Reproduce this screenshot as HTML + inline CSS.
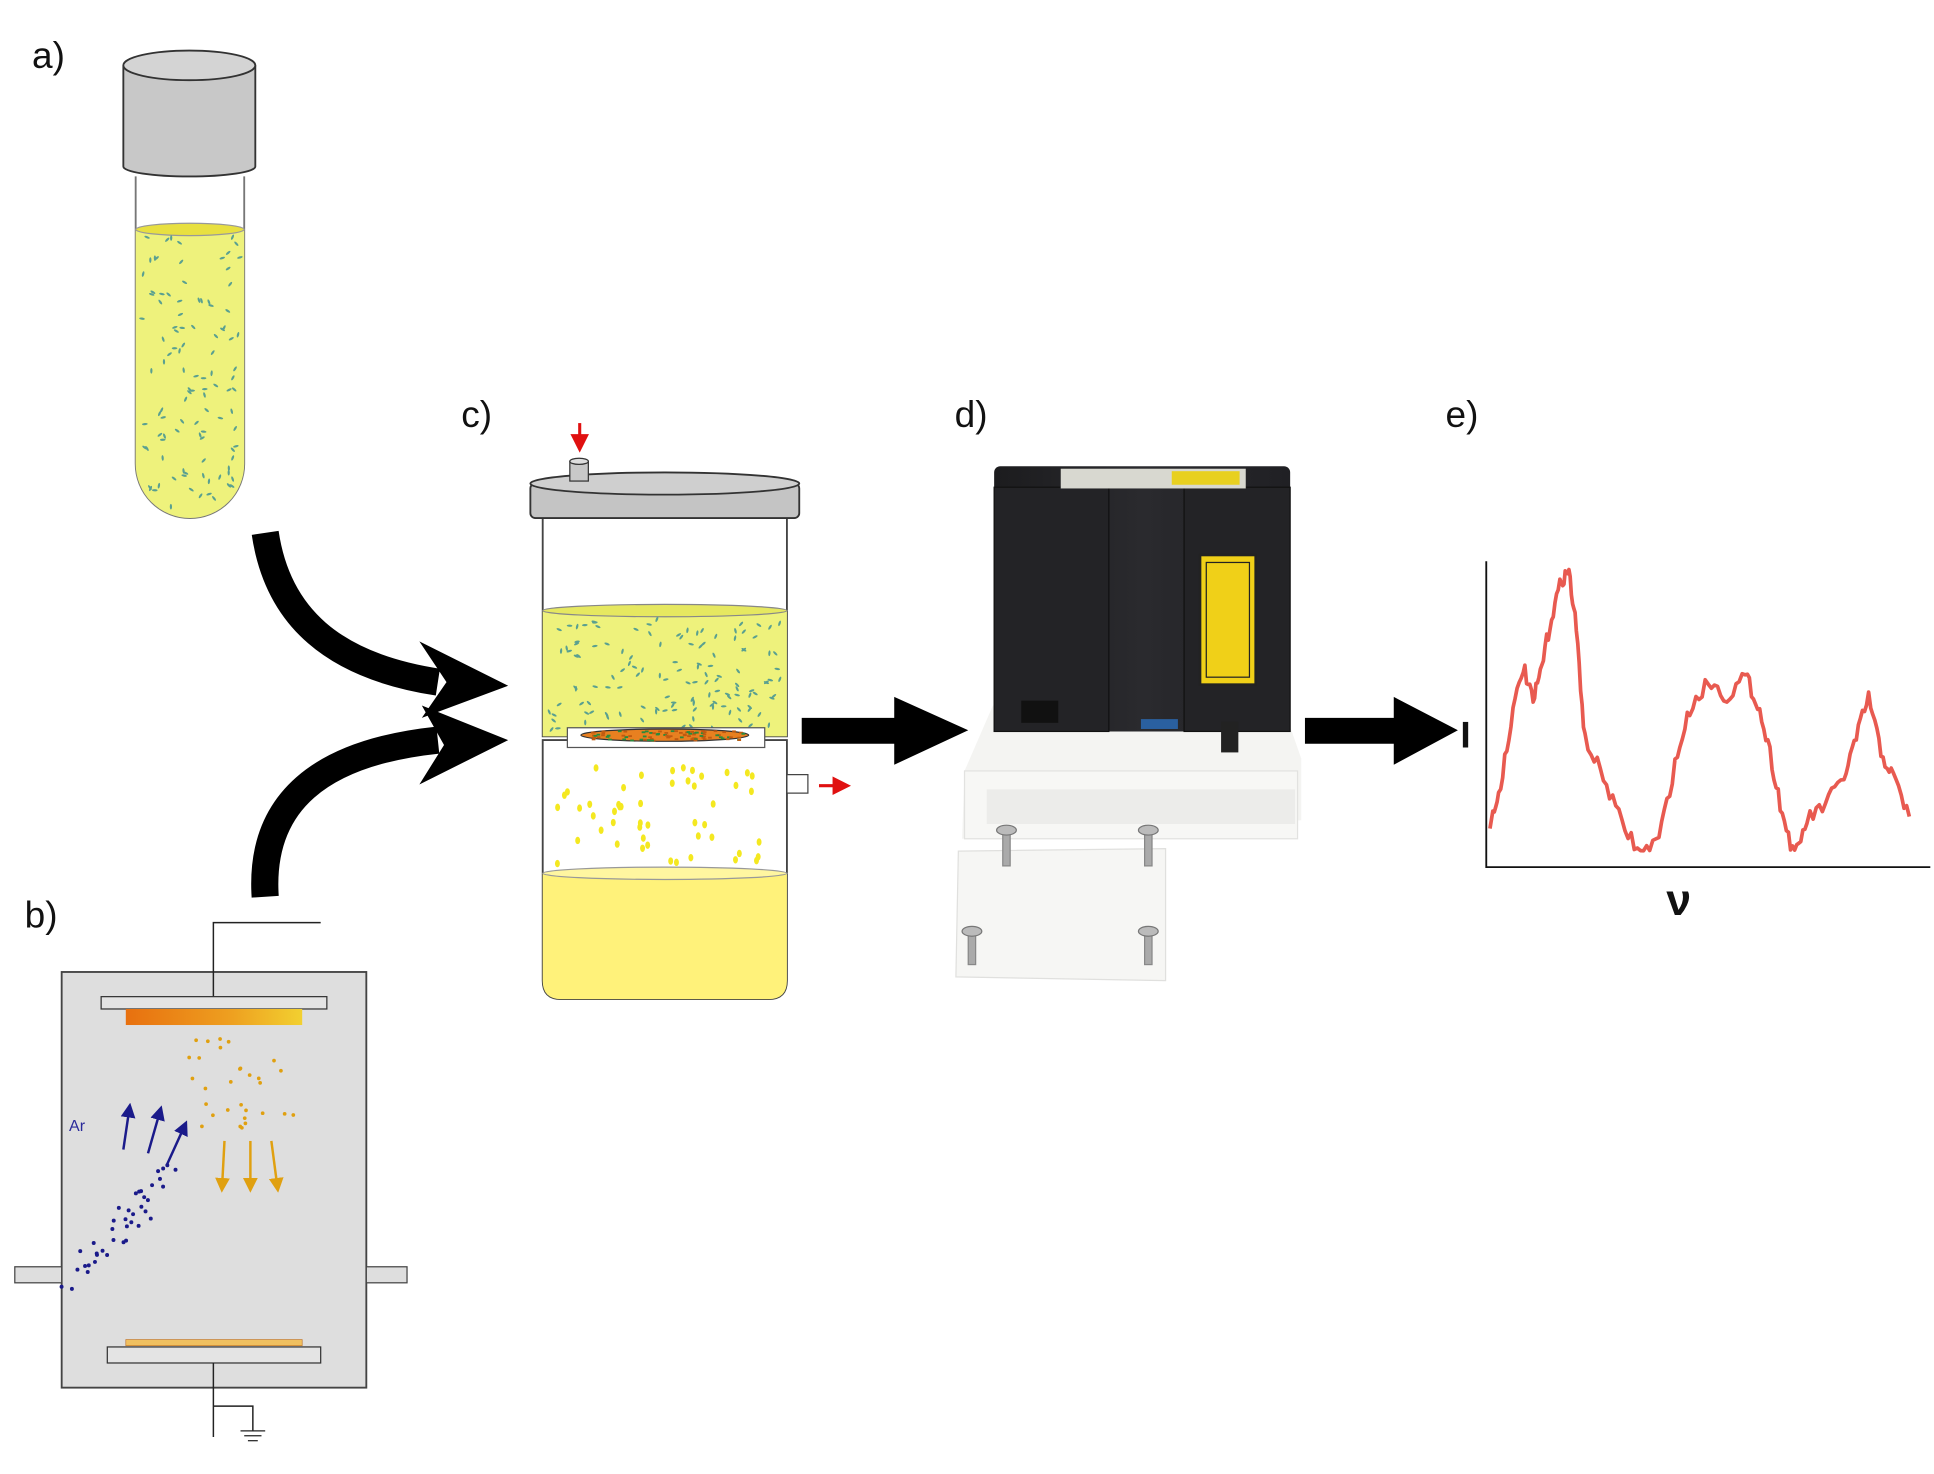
<!DOCTYPE html>
<html><head><meta charset="utf-8"><style>html,body{margin:0;padding:0;background:#fff}svg{display:block}</style></head>
<body>
<svg id="s" width="1934" height="1474" viewBox="0 0 1568 1195" preserveAspectRatio="none" xmlns="http://www.w3.org/2000/svg" font-family="Liberation Sans, sans-serif">
<defs>
<linearGradient id="tg" x1="0" x2="1"><stop offset="0" stop-color="#e8700f"/><stop offset="0.6" stop-color="#eea020"/><stop offset="1" stop-color="#f2d030"/></linearGradient>
<linearGradient id="box" x1="0" x2="1"><stop offset="0" stop-color="#1c1c1e"/><stop offset="0.5" stop-color="#2a2a2e"/><stop offset="1" stop-color="#202024"/></linearGradient>
<marker id="ra" markerWidth="6" markerHeight="6" refX="4" refY="3" orient="auto"><path d="M0,0 L6,3 L0,6 z" fill="#e01010"/></marker>
<marker id="ba" markerWidth="6" markerHeight="6" refX="4" refY="3" orient="auto"><path d="M0,0 L6,3 L0,6 z" fill="#1a1a8a"/></marker>
<marker id="oa" markerWidth="6" markerHeight="6" refX="4" refY="3" orient="auto"><path d="M0,0 L6,3 L0,6 z" fill="#e0a010"/></marker>
</defs>
<g font-size="30" fill="#111">
<text x="26" y="55">a)</text><text x="20" y="752">b)</text><text x="374" y="346">c)</text><text x="774" y="346">d)</text><text x="1172" y="346">e)</text>
</g>
<path d="M110,143 V376 A44,44 0 0 0 198,376 V143" fill="#fff" stroke="#777" stroke-width="1.5"/>
<path d="M110,186 V376 A44,44 0 0 0 198,376 V186 Z" fill="#eef27c"/>
<ellipse cx="154" cy="186" rx="44" ry="5" fill="#e8e040" stroke="#999"/>
<g id="tubeSpecks"></g>
<path d="M100,53 V135 A53,8 0 0 0 207,135 V53" fill="#c8c8c8" stroke="#333" stroke-width="1.5"/>
<ellipse cx="153.5" cy="53" rx="53.5" ry="12" fill="#d4d4d4" stroke="#333" stroke-width="1.5"/>
<path d="M215,432 C225,500 270,540 355,553" fill="none" stroke="#000" stroke-width="22"/>
<path d="M340,520 L412,556 L342,582 L362,553 Z" fill="#000"/>
<path d="M215,727 C210,650 260,610 355,600" fill="none" stroke="#000" stroke-width="22"/>
<path d="M342,572 L412,600 L340,636 L360,604 Z" fill="#000"/>
<rect x="50" y="788" width="247" height="337" fill="#dedede" stroke="#444" stroke-width="1.5"/>
<rect x="12" y="1027" width="38" height="13" fill="#dedede" stroke="#444"/>
<rect x="297" y="1027" width="33" height="13" fill="#dedede" stroke="#444"/>
<polyline points="173,808 173,748 260,748" fill="none" stroke="#222" stroke-width="1.2"/>
<rect x="82" y="808" width="183" height="10" fill="#e4e4e4" stroke="#333"/>
<rect x="102" y="818" width="143" height="13" fill="url(#tg)"/>
<rect x="102" y="1086" width="143" height="5" fill="#f0c060" stroke="#c07020" stroke-width="0.5"/>
<rect x="87" y="1092" width="173" height="13" fill="#e4e4e4" stroke="#333"/>
<polyline points="173,1105 173,1165" fill="none" stroke="#222" stroke-width="1.2"/>
<polyline points="173,1140 205,1140 205,1160" fill="none" stroke="#222" stroke-width="1.2"/>
<line x1="195" y1="1160" x2="215" y2="1160" stroke="#222"/><line x1="198" y1="1164" x2="212" y2="1164" stroke="#222"/><line x1="201" y1="1168" x2="209" y2="1168" stroke="#222"/>
<text x="56" y="917" font-size="13" fill="#2a2a9a">Ar</text>
<g stroke="#1a1a8a" stroke-width="2" marker-end="url(#ba)"><line x1="100" y1="932" x2="105" y2="898"/><line x1="120" y1="935" x2="130" y2="900"/><line x1="135" y1="945" x2="150" y2="912"/></g>
<g stroke="#e0a010" stroke-width="2" marker-end="url(#oa)"><line x1="182" y1="925" x2="180" y2="963"/><line x1="203" y1="925" x2="203" y2="963"/><line x1="220" y1="925" x2="225" y2="963"/></g>
<g id="bdots"></g>
<path d="M440,420 V597 H638 V420" fill="#fff" stroke="#444" stroke-width="1.5"/>
<path d="M440,495 V597 H638 V495 Z" fill="#eef27c"/>
<ellipse cx="539" cy="495" rx="99" ry="5" fill="#e6e860" stroke="#888"/>
<g id="cSpecks"></g>
<path d="M440,600 V795 Q440,810 455,810 H623 Q638,810 638,795 V600 Z" fill="#fff" stroke="#444" stroke-width="1.5"/>
<path d="M440,708 V795 Q440,810 455,810 H623 Q638,810 638,795 V708 Z" fill="#fff27a"/>
<ellipse cx="539" cy="708" rx="99" ry="5" fill="#fff6a0" stroke="#999"/>
<g id="cdrops"></g>
<rect x="460" y="590" width="160" height="16" fill="#fff" stroke="#555"/>
<ellipse cx="539" cy="596" rx="68" ry="5" fill="#e88020" stroke="#333"/>
<g id="disc"></g>
<rect x="638" y="628" width="17" height="15" fill="#fff" stroke="#444"/>
<line x1="664" y1="637" x2="685" y2="637" stroke="#e01010" stroke-width="2.5" marker-end="url(#ra)"/>
<rect x="430" y="392" width="218" height="28" rx="4" fill="#c4c4c4" stroke="#333" stroke-width="1.5"/>
<ellipse cx="539" cy="392" rx="109" ry="9" fill="#cfcfcf" stroke="#333" stroke-width="1.5"/>
<rect x="462" y="374" width="15" height="16" fill="#c8c8c8" stroke="#333"/>
<ellipse cx="469.5" cy="374" rx="7.5" ry="2.5" fill="#ddd" stroke="#333"/>
<line x1="470" y1="343" x2="470" y2="362" stroke="#e01010" stroke-width="2.5" marker-end="url(#ra)"/>
<path d="M650,582 H725 V565 L785,592 L725,620 V603 H650 Z" fill="#000"/>
<path d="M1058,582 H1130 V565 L1182,592 L1130,620 V603 H1058 Z" fill="#000"/>
<path d="M782,625 L805,572 L1040,572 L1055,615 L1055,665 L780,680 Z" fill="#f4f4f2"/>
<rect x="782" y="625" width="270" height="55" fill="#f7f7f5" stroke="#e2e2e0"/>
<rect x="800" y="640" width="250" height="28" fill="#ececea"/>
<path d="M777,690 L945,688 L945,795 L775,792 Z" fill="#f6f6f4" stroke="#e0e0de"/>
<g fill="#aaa" stroke="#888"><rect x="813" y="672" width="6" height="30"/><rect x="928" y="672" width="6" height="30"/><rect x="785" y="752" width="6" height="30"/><rect x="928" y="752" width="6" height="30"/></g>
<g fill="#bbb" stroke="#777"><ellipse cx="816" cy="673" rx="8" ry="4"/><ellipse cx="931" cy="673" rx="8" ry="4"/><ellipse cx="788" cy="755" rx="8" ry="4"/><ellipse cx="931" cy="755" rx="8" ry="4"/></g>
<rect x="806" y="378" width="240" height="215" rx="5" fill="url(#box)"/>
<rect x="806" y="395" width="93" height="198" fill="#232326" stroke="#111"/>
<rect x="960" y="395" width="86" height="198" fill="#232326" stroke="#111"/>
<rect x="860" y="380" width="150" height="16" fill="#d8d8d0"/>
<rect x="950" y="382" width="55" height="11" fill="#e8d020"/>
<rect x="973" y="450" width="45" height="105" fill="#f0d018" stroke="#222" stroke-width="2"/>
<rect x="978" y="456" width="35" height="93" fill="none" stroke="#222"/>
<rect x="828" y="568" width="30" height="18" fill="#111"/>
<rect x="925" y="583" width="30" height="8" fill="#2a60a0"/>
<rect x="990" y="585" width="14" height="25" fill="#222"/>
<polyline points="1205,455 1205,703 1565,703" fill="none" stroke="#111" stroke-width="1.5"/>
<text x="1184" y="606" font-size="30" font-weight="bold" fill="#111">I</text>
<text x="1351" y="742" font-size="36" font-weight="bold" fill="#111">ν</text>
<polyline id="curve" fill="none" stroke="#e85a50" stroke-width="3" stroke-linejoin="round"/>
</svg>
<script>
(function(){
var NS="http://www.w3.org/2000/svg",seed=7;function r(){seed=(seed*16807)%2147483647;return seed/2147483647;}
function el(p,t,a){var e=document.createElementNS(NS,t);for(var k in a)e.setAttribute(k,a[k]);document.getElementById(p).appendChild(e);}
for(var i=0;i<110;i++){var x=113+r()*82,y=192+r()*222;if(y>376){var dx=x-154;if(dx*dx+(y-376)*(y-376)>40*40)continue;}
el("tubeSpecks","ellipse",{cx:x,cy:y,rx:0.9,ry:2.3,fill:"#5aa090",transform:"rotate("+(r()*180)+" "+x+" "+y+")"});}
for(var i=0;i<130;i++){var x=445+r()*188,y=502+r()*90;el("cSpecks","ellipse",{cx:x,cy:y,rx:0.9,ry:2.3,fill:"#5aa090",transform:"rotate("+(r()*180)+" "+x+" "+y+")"});}
for(var i=0;i<50;i++){var x=450+r()*170,y=622+r()*82;el("cdrops","ellipse",{cx:x,cy:y,rx:2,ry:3,fill:"#f4e820"});}
for(var i=0;i<90;i++){var x=475+r()*128,y=592+r()*8;el("disc","rect",{x:x,y:y,width:3,height:1.5,fill:r()<0.5?"#2a8a3a":"#c05a10"});}
for(var i=0;i<30;i++){var x=150+r()*90,y=840+r()*75;el("bdots","circle",{cx:x,cy:y,r:1.5,fill:"#e0a010"});}
for(var i=0;i<40;i++){var t=r();var x=60+t*80+(r()-0.5)*30,y=1035-t*90+(r()-0.5)*25;el("bdots","circle",{cx:x,cy:y,r:1.6,fill:"#1a1a8a"});}
var k=[[1208,668],[1215,645],[1225,585],[1235,540],[1243,570],[1250,540],[1258,500],[1266,470],[1272,463],[1278,510],[1285,600],[1300,630],[1315,668],[1330,692],[1345,680],[1358,620],[1370,575],[1385,552],[1400,565],[1415,548],[1425,570],[1435,610],[1445,660],[1455,695],[1465,665],[1480,652],[1495,630],[1505,598],[1515,565],[1525,610],[1535,630],[1548,662]];
var pts=[];for(var i=0;i<k.length-1;i++){for(var j=0;j<6;j++){var f=j/6;pts.push((k[i][0]+(k[i+1][0]-k[i][0])*f).toFixed(1)+","+(k[i][1]+(k[i+1][1]-k[i][1])*f+(r()-0.5)*12).toFixed(1));}}
pts.push(k[k.length-1].join(","));document.getElementById("curve").setAttribute("points",pts.join(" "));
})();
</script>
</body></html>
